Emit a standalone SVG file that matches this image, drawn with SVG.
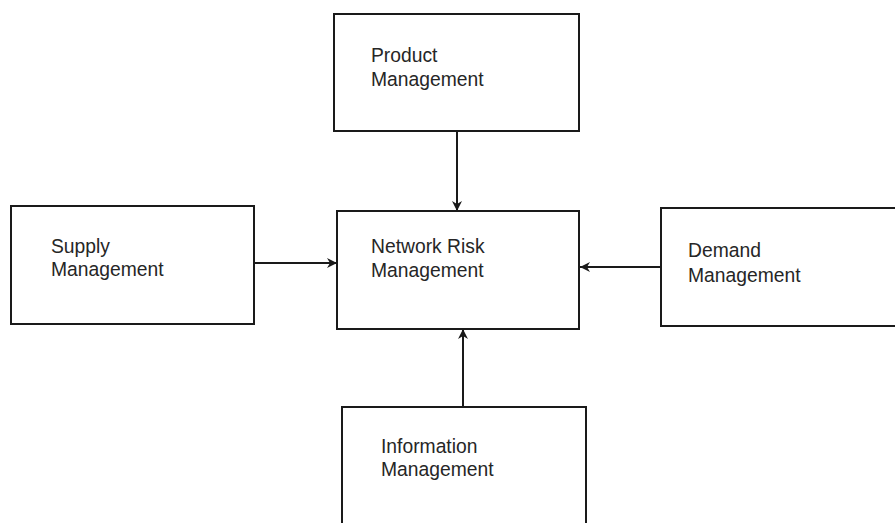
<svg xmlns="http://www.w3.org/2000/svg" width="895" height="523" viewBox="0 0 895 523">
<style>
.box{fill:#fff;stroke:#1a1a1a;stroke-width:2}
.lbl{font-family:"Liberation Sans",Arial,sans-serif;font-size:19.3px;fill:#262626}
.edge{stroke:#1a1a1a;stroke-width:2;fill:none;marker-end:url(#ah)}
</style>
<defs>
<marker id="ah" viewBox="0 0 10 10" refX="10" refY="5" markerWidth="10" markerHeight="10" markerUnits="userSpaceOnUse" orient="auto">
<path d="M0,0 L10,5 L0,10 L3,5 Z" fill="#1a1a1a"/>
</marker>
</defs>
<rect width="895" height="523" fill="#fff"/>
<g id="connectors">
<line class="edge" x1="457" y1="131" x2="457" y2="211"/>
<line class="edge" x1="254" y1="263" x2="337" y2="263"/>
<line class="edge" x1="661" y1="267" x2="580" y2="267"/>
<line class="edge" x1="463" y1="407" x2="463" y2="329"/>
</g>
<g id="product">
<rect class="box" x="334" y="14" width="245" height="117"/>
<text class="lbl" x="371" y="62">Product</text>
<text class="lbl" x="371" y="86">Management</text>
</g>
<g id="network">
<rect class="box" x="337" y="211" width="242" height="118"/>
<text class="lbl" x="371" y="253">Network Risk</text>
<text class="lbl" x="371" y="277">Management</text>
</g>
<g id="supply">
<rect class="box" x="11" y="206" width="243" height="118"/>
<text class="lbl" x="51" y="253">Supply</text>
<text class="lbl" x="51" y="276">Management</text>
</g>
<g id="demand">
<rect class="box" x="661" y="208" width="250" height="118"/>
<text class="lbl" x="688" y="257">Demand</text>
<text class="lbl" x="688" y="282">Management</text>
</g>
<g id="information">
<rect class="box" x="342" y="407" width="244" height="130"/>
<text class="lbl" x="381" y="453">Information</text>
<text class="lbl" x="381" y="476">Management</text>
</g>
</svg>
